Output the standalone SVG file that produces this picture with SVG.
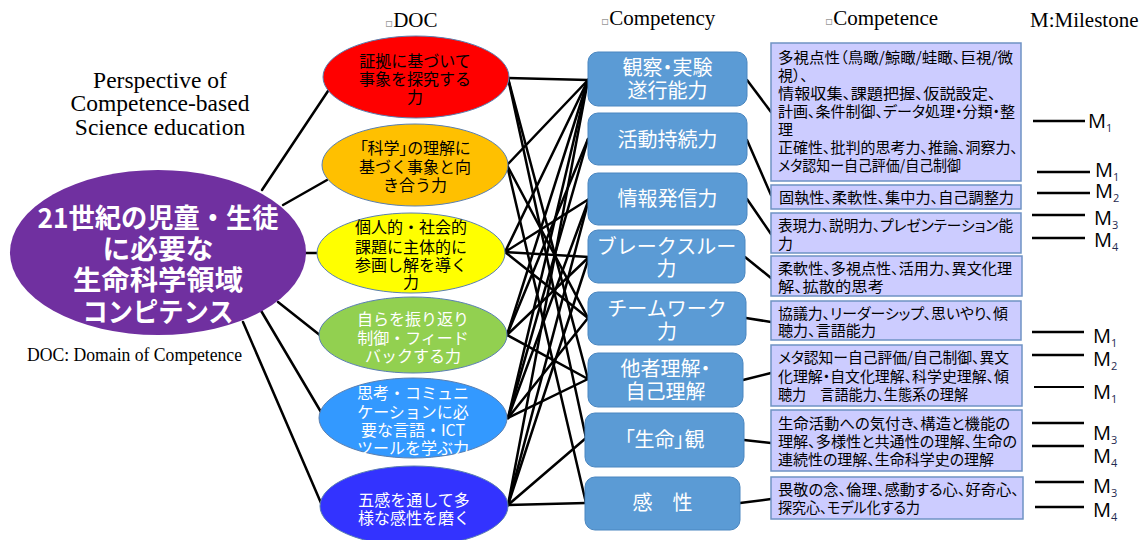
<svg xmlns="http://www.w3.org/2000/svg" width="1143" height="540" viewBox="0 0 1143 540">
<style>
.hd{font-family:"Liberation Serif",serif;font-size:21px;fill:#000}
.bul{font-family:"DejaVu Sans",sans-serif;font-size:12px;fill:#999}
.jp{font-family:"Noto Sans CJK JP",sans-serif}
.dt{font-family:"Noto Sans CJK JP",sans-serif;font-size:16px;text-anchor:middle}
.cy{font-family:"Noto Sans CJK JP",sans-serif;font-size:20px;fill:#fff;text-anchor:middle}
.palt{font-feature-settings:"palt"}
.ct{font-family:"Noto Sans CJK JP",sans-serif;font-size:15px;fill:#000;font-feature-settings:"palt"}
.eo{stroke:#5a7fb0;stroke-width:1}
.cyb{fill:#5b9bd5;stroke:#4a86c0;stroke-width:1}
.ceb{fill:#ccccff;stroke:#6f93c4;stroke-width:1.5}
.ln{stroke:#000;stroke-width:2.5;fill:none;stroke-linecap:round}
.ms{stroke:#000;stroke-width:2.5}
.mt{font-family:"Open Sans","Noto Sans",sans-serif;font-size:20px;fill:#000}
.sub{font-size:11px;fill:#1f2a50}
</style>
<rect width="1143" height="540" fill="#fff"/>

<g id="headers">
<text class="hd" style="font-size:23.5px" text-anchor="middle"><tspan x="160" y="88">Perspective of</tspan><tspan x="160" y="111">Competence-based</tspan><tspan x="160" y="135">Science education</tspan></text>
<text class="hd" x="27" y="361" style="font-size:18px" textLength="215" lengthAdjust="spacingAndGlyphs">DOC: Domain of Competence</text>
<text class="hd" x="385" y="27"><tspan class="bul">▫</tspan>DOC</text>
<text class="hd" x="601" y="25"><tspan class="bul">▫</tspan>Competency</text>
<text class="hd" x="825" y="25"><tspan class="bul">▫</tspan>Competence</text>
<text class="hd" x="1030" y="27">M:Milestone</text>
</g>

<g id="connectors">
<line class="ln" x1="262" y1="190" x2="328" y2="91"/>
<line class="ln" x1="283" y1="205" x2="327" y2="180"/>
<line class="ln" x1="305" y1="253" x2="318" y2="253"/>
<line class="ln" x1="278" y1="302" x2="321" y2="336"/>
<line class="ln" x1="260" y1="309" x2="321" y2="412"/>
<line class="ln" x1="243" y1="322" x2="321" y2="503"/>
<line class="ln" x1="508" y1="78" x2="588" y2="80"/>
<line class="ln" x1="508" y1="78" x2="588" y2="379"/>
<line class="ln" x1="508" y1="78" x2="586" y2="438"/>
<line class="ln" x1="507" y1="165" x2="588" y2="80"/>
<line class="ln" x1="507" y1="165" x2="588" y2="318"/>
<line class="ln" x1="507" y1="165" x2="586" y2="503"/>
<line class="ln" x1="505" y1="252" x2="588" y2="80"/>
<line class="ln" x1="505" y1="252" x2="589" y2="199"/>
<line class="ln" x1="505" y1="252" x2="589" y2="257"/>
<line class="ln" x1="505" y1="252" x2="588" y2="318"/>
<line class="ln" x1="507" y1="335" x2="588" y2="80"/>
<line class="ln" x1="507" y1="335" x2="588" y2="139"/>
<line class="ln" x1="507" y1="335" x2="589" y2="257"/>
<line class="ln" x1="507" y1="335" x2="588" y2="379"/>
<line class="ln" x1="508" y1="418" x2="588" y2="80"/>
<line class="ln" x1="508" y1="418" x2="588" y2="139"/>
<line class="ln" x1="508" y1="418" x2="589" y2="199"/>
<line class="ln" x1="508" y1="418" x2="588" y2="318"/>
<line class="ln" x1="508" y1="418" x2="588" y2="379"/>
<line class="ln" x1="508" y1="505" x2="588" y2="80"/>
<line class="ln" x1="508" y1="505" x2="589" y2="199"/>
<line class="ln" x1="508" y1="505" x2="589" y2="257"/>
<line class="ln" x1="508" y1="505" x2="586" y2="438"/>
<line class="ln" x1="508" y1="505" x2="586" y2="503"/>
<line class="ln" x1="747" y1="80" x2="771" y2="112"/>
<line class="ln" x1="747" y1="140" x2="771" y2="195"/>
<line class="ln" x1="747" y1="199" x2="771" y2="234"/>
<line class="ln" x1="745" y1="257" x2="771" y2="278"/>
<line class="ln" x1="746" y1="318" x2="771" y2="322"/>
<line class="ln" x1="743" y1="380" x2="771" y2="373"/>
<line class="ln" x1="744" y1="440" x2="771" y2="443"/>
<line class="ln" x1="740" y1="503" x2="771" y2="499"/>
</g>

<g id="node-main">
<ellipse cx="158" cy="252.5" rx="148" ry="82.5" fill="#7030a0"/>
<text class="jp" fill="#fff" font-size="27" font-weight="bold" text-anchor="middle"><tspan x="158" y="228" textLength="241" lengthAdjust="spacingAndGlyphs">21世紀の児童・生徒</tspan><tspan x="158" y="259" textLength="111" lengthAdjust="spacingAndGlyphs">に必要な</tspan><tspan x="158" y="290" textLength="170" lengthAdjust="spacingAndGlyphs">生命科学領域</tspan><tspan x="158" y="322" textLength="151" lengthAdjust="spacingAndGlyphs">コンピテンス</tspan></text>
</g>

<g id="node-doc1">
<ellipse class="eo" cx="416" cy="77" rx="93" ry="41" fill="#ff0000"/>
<text class="dt"><tspan x="415" y="67">証拠に基づいて</tspan><tspan x="415" y="85">事象を探究する</tspan><tspan x="415" y="103">力</tspan></text>
</g>
<g id="node-doc2">
<ellipse class="eo" cx="415" cy="165" rx="93" ry="41" fill="#ffc000"/>
<text class="dt"><tspan class="palt" x="415" y="154">「科学」の理解に</tspan><tspan x="415" y="173">基づく事象と向</tspan><tspan x="415" y="191">き合う力</tspan></text>
</g>
<g id="node-doc3">
<ellipse class="eo" cx="411" cy="253" rx="94" ry="40" fill="#ffff00"/>
<text class="dt"><tspan x="411" y="233">個人的・社会的</tspan><tspan x="411" y="253">課題に主体的に</tspan><tspan x="411" y="271">参画し解を導く</tspan><tspan x="411" y="288">力</tspan></text>
</g>
<g id="node-doc4">
<ellipse class="eo" cx="413" cy="335" rx="94" ry="38" fill="#92d050"/>
<text class="dt" fill="#fff"><tspan x="413" y="325">自らを振り返り</tspan><tspan x="413" y="344">制御・フィード</tspan><tspan x="413" y="362">バックする力</tspan></text>
</g>
<g id="node-doc5">
<ellipse class="eo" cx="413" cy="418" rx="94" ry="40" fill="#3399ff"/>
<text class="dt" fill="#fff"><tspan x="413" y="399">思考・コミュニ</tspan><tspan x="413" y="418">ケーションに必</tspan><tspan x="413" y="436">要な言語・ICT</tspan><tspan x="413" y="454">ツールを学ぶ力</tspan></text>
</g>
<g id="node-doc6">
<ellipse class="eo" cx="414" cy="506" rx="94" ry="40" fill="#3333ff"/>
<text class="dt" fill="#fff"><tspan x="414" y="506">五感を通して多</tspan><tspan x="414" y="524">様な感性を磨く</tspan></text>
</g>

<g id="node-cy1"><rect class="cyb" x="588" y="52" width="159" height="54" rx="10"/>
<text class="cy"><tspan class="palt" x="667.5" y="75">観察・実験</tspan><tspan x="667.5" y="98">遂行能力</tspan></text></g>
<g id="node-cy2"><rect class="cyb" x="588" y="113" width="159" height="52" rx="10"/>
<text class="cy" x="667.5" y="147">活動持続力</text></g>
<g id="node-cy3"><rect class="cyb" x="588" y="173" width="159" height="52" rx="10"/>
<text class="cy" x="667.5" y="206">情報発信力</text></g>
<g id="node-cy4"><rect class="cyb" x="588" y="230" width="157" height="53" rx="10"/>
<text class="cy"><tspan x="666.5" y="254">ブレークスルー</tspan><tspan x="666.5" y="276">力</tspan></text></g>
<g id="node-cy5"><rect class="cyb" x="588" y="292" width="158" height="53" rx="10"/>
<text class="cy"><tspan x="667" y="316">チームワーク</tspan><tspan x="667" y="339">力</tspan></text></g>
<g id="node-cy6"><rect class="cyb" x="588" y="353" width="155" height="54" rx="10"/>
<text class="cy"><tspan class="palt" x="665.5" y="376">他者理解・</tspan><tspan x="665.5" y="399">自己理解</tspan></text></g>
<g id="node-cy7"><rect class="cyb" x="585" y="413" width="159" height="54" rx="10"/>
<text class="cy palt" x="664.5" y="447">「生命」観</text></g>
<g id="node-cy8"><rect class="cyb" x="585" y="477" width="155" height="53" rx="10"/>
<text class="cy" x="662.5" y="510">感　性</text></g>

<g id="node-ce1"><rect class="ceb" x="771" y="43" width="250" height="138"/>
<text class="ct"><tspan x="778" y="63" textLength="235" lengthAdjust="spacingAndGlyphs">多視点性（鳥瞰/鯨瞰/蛙瞰、巨視/微</tspan><tspan x="778" y="81">視）、</tspan><tspan x="778" y="99" textLength="218" lengthAdjust="spacingAndGlyphs">情報収集、課題把握、仮説設定、</tspan><tspan x="778" y="117" textLength="237" lengthAdjust="spacingAndGlyphs">計画、条件制御、データ処理・分類・整</tspan><tspan x="778" y="135">理</tspan><tspan x="778" y="153" textLength="240" lengthAdjust="spacingAndGlyphs">正確性、批判的思考力、推論、洞察力、</tspan><tspan x="778" y="171" textLength="183" lengthAdjust="spacingAndGlyphs">メタ認知ー自己評価/自己制御</tspan></text>
</g>
<g id="node-ce2"><rect class="ceb" x="771" y="185" width="250" height="24"/>
<text class="ct" x="779" y="203" textLength="235" lengthAdjust="spacingAndGlyphs">固執性、柔軟性、集中力、自己調整力</text></g>
<g id="node-ce3"><rect class="ceb" x="771" y="213" width="250" height="40"/>
<text class="ct"><tspan x="778" y="231" textLength="235" lengthAdjust="spacingAndGlyphs">表現力、説明力、プレゼンテーション能</tspan><tspan x="778" y="249">力</tspan></text></g>
<g id="node-ce4"><rect class="ceb" x="771" y="256" width="251" height="40"/>
<text class="ct"><tspan x="778" y="274" textLength="234" lengthAdjust="spacingAndGlyphs">柔軟性、多視点性、活用力、異文化理</tspan><tspan x="778" y="292" textLength="106" lengthAdjust="spacingAndGlyphs">解、拡散的思考</tspan></text></g>
<g id="node-ce5"><rect class="ceb" x="771" y="301" width="250" height="39"/>
<text class="ct"><tspan x="778" y="319" textLength="230" lengthAdjust="spacingAndGlyphs">協議力、リーダーシップ、思いやり、傾</tspan><tspan x="778" y="336" textLength="98" lengthAdjust="spacingAndGlyphs">聴力、言語能力</tspan></text></g>
<g id="node-ce6"><rect class="ceb" x="771" y="345" width="251" height="61"/>
<text class="ct"><tspan x="778" y="363" textLength="231" lengthAdjust="spacingAndGlyphs">メタ認知ー自己評価/自己制御、異文</tspan><tspan x="778" y="382" textLength="231" lengthAdjust="spacingAndGlyphs">化理解・自文化理解、科学史理解、傾</tspan><tspan x="778" y="400" textLength="190" lengthAdjust="spacingAndGlyphs">聴力　言語能力、生態系の理解</tspan></text></g>
<g id="node-ce7"><rect class="ceb" x="771" y="410" width="251" height="61"/>
<text class="ct"><tspan x="778" y="429" textLength="232" lengthAdjust="spacingAndGlyphs">生命活動への気付き、構造と機能の</tspan><tspan x="778" y="447" textLength="239" lengthAdjust="spacingAndGlyphs">理解、多様性と共通性の理解、生命の</tspan><tspan x="778" y="465" textLength="216" lengthAdjust="spacingAndGlyphs">連続性の理解、生命科学史の理解</tspan></text></g>
<g id="node-ce8"><rect class="ceb" x="771" y="477" width="252" height="42"/>
<text class="ct"><tspan x="778" y="495" textLength="241" lengthAdjust="spacingAndGlyphs">畏敬の念、倫理、感動する心、好奇心、</tspan><tspan x="778" y="513" textLength="142" lengthAdjust="spacingAndGlyphs">探究心、モデル化する力</tspan></text></g>

<g id="milestones">
<line class="ms" x1="1033" y1="121" x2="1085" y2="121"/>
<text class="mt" x="1088" y="128">M<tspan class="sub" dy="4">1</tspan></text>
<line class="ms" x1="1037" y1="172" x2="1090" y2="172"/>
<text class="mt" x="1095" y="177">M<tspan class="sub" dy="4">1</tspan></text>
<line class="ms" x1="1037" y1="193" x2="1090" y2="193"/>
<text class="mt" x="1095" y="198">M<tspan class="sub" dy="4">2</tspan></text>
<line class="ms" x1="1032" y1="215" x2="1085" y2="215"/>
<text class="mt" x="1094" y="225">M<tspan class="sub" dy="4">3</tspan></text>
<line class="ms" x1="1032" y1="238" x2="1085" y2="238"/>
<text class="mt" x="1094" y="247">M<tspan class="sub" dy="4">4</tspan></text>
<line class="ms" x1="1032" y1="332" x2="1084" y2="332"/>
<text class="mt" x="1093" y="343">M<tspan class="sub" dy="4">1</tspan></text>
<line class="ms" x1="1032" y1="355" x2="1084" y2="355"/>
<text class="mt" x="1093" y="366">M<tspan class="sub" dy="4">2</tspan></text>
<line class="ms" x1="1034" y1="387" x2="1084" y2="387" style="stroke-width:1.8"/>
<text class="mt" x="1093" y="399">M<tspan class="sub" dy="4">1</tspan></text>
<line class="ms" x1="1032" y1="423" x2="1084" y2="423"/>
<text class="mt" x="1093" y="440">M<tspan class="sub" dy="4">3</tspan></text>
<line class="ms" x1="1032" y1="446" x2="1084" y2="446"/>
<text class="mt" x="1093" y="463">M<tspan class="sub" dy="4">4</tspan></text>
<line class="ms" x1="1035" y1="482" x2="1084" y2="482"/>
<text class="mt" x="1093" y="493">M<tspan class="sub" dy="4">3</tspan></text>
<line class="ms" x1="1035" y1="507" x2="1084" y2="507"/>
<text class="mt" x="1093" y="517">M<tspan class="sub" dy="4">4</tspan></text>
</g>
</svg>
